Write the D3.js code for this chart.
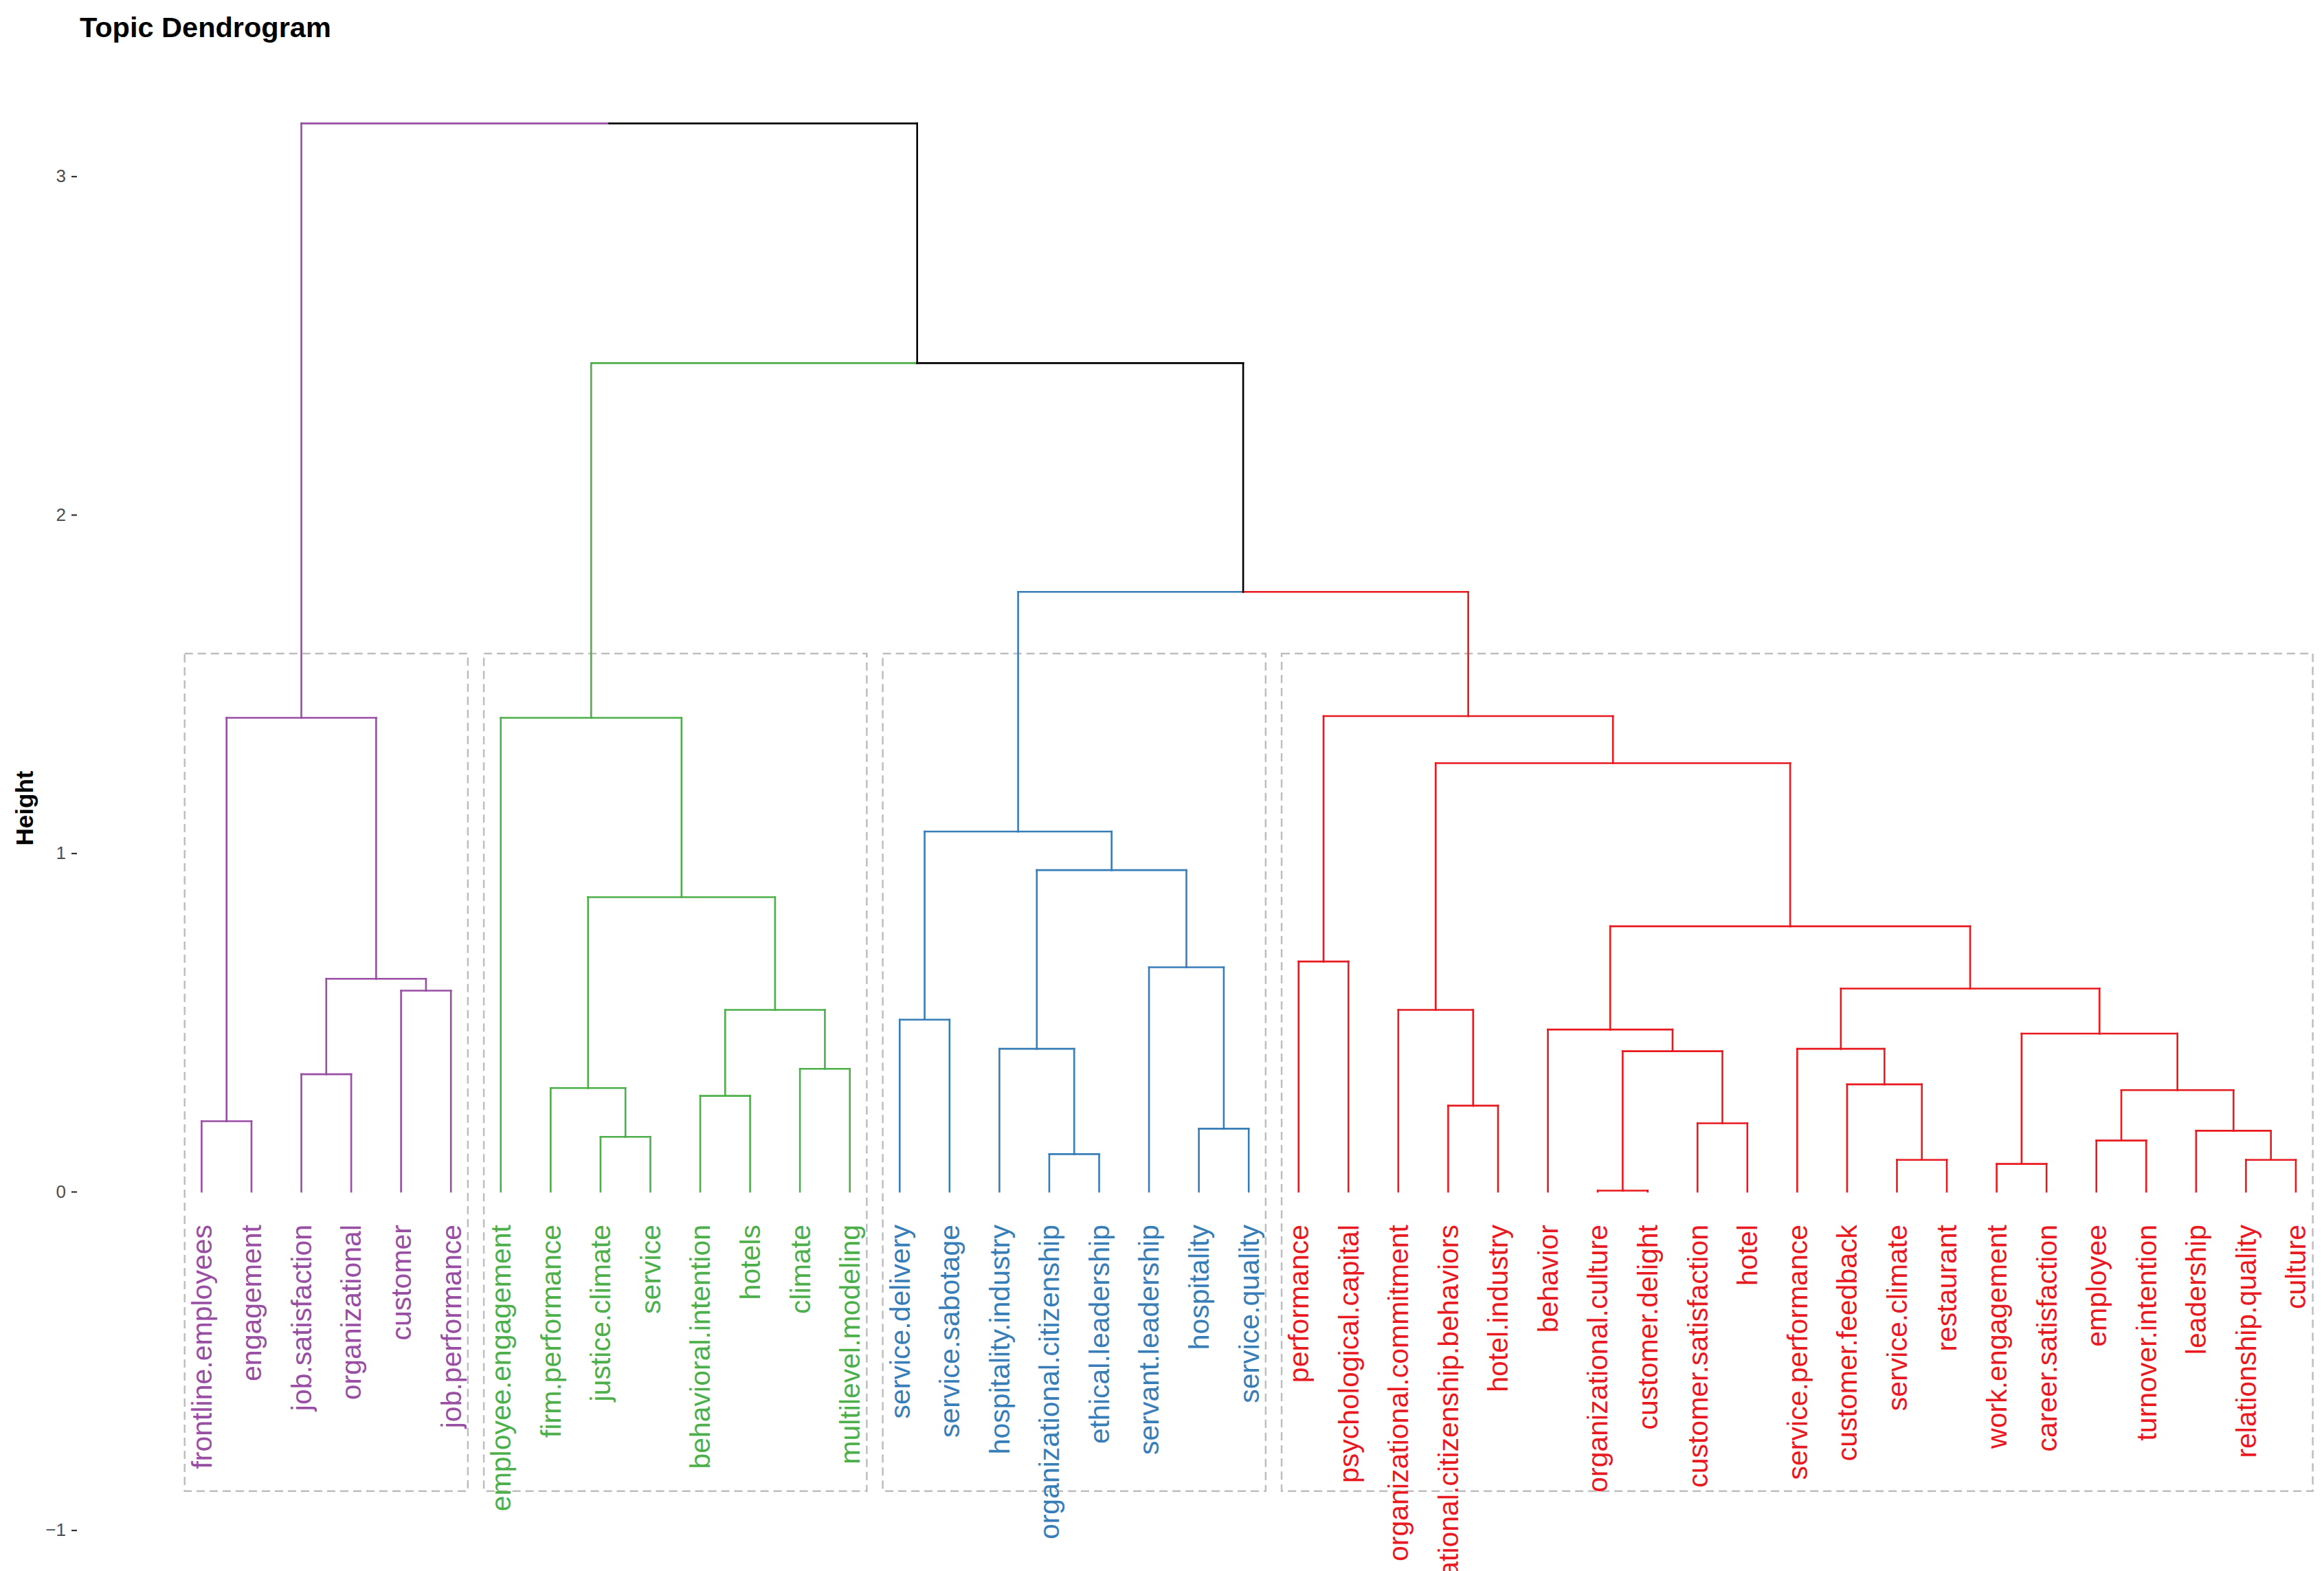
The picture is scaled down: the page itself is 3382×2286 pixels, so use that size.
<!DOCTYPE html>
<html>
<head>
<meta charset="utf-8">
<script src="https://cdn.jsdelivr.net/npm/d3@7"></script>
<style>
  body { margin: 0; background: #ffffff; }
  text { font-family: "Liberation Sans", Arial, sans-serif; }
</style>
</head>
<body>
<div id="chart"></div>
<script>
// leaves in plotting order
var labels = [
  "frontline.employees", "engagement", "job.satisfaction", "organizational", "customer", "job.performance",
  "employee.engagement", "firm.performance", "justice.climate", "service", "behavioral.intention", "hotels", "climate", "multilevel.modeling",
  "service.delivery", "service.sabotage", "hospitality.industry", "organizational.citizenship", "ethical.leadership", "servant.leadership", "hospitality", "service.quality",
  "performance", "psychological.capital", "organizational.commitment", "organizational.citizenship.behaviors", "hotel.industry", "behavior",
  "organizational.culture", "customer.delight", "customer.satisfaction", "hotel", "service.performance", "customer.feedback", "service.climate",
  "restaurant", "work.engagement", "career.satisfaction", "employee", "turnover.intention", "leadership", "relationship.quality", "culture"
];
// cluster of each leaf (1..4)
var clusterSizes = [6, 8, 8, 21];
var clusterColors = ["#984EA3", "#4DAF4A", "#377EB8", "#E8191F"];

// hclust-style merges: negative = leaf index (1-based), positive = earlier merge row
var mergeLeft  = [-29, -18, -37, -35, -42, -39, -9, -41, -21, -31, -1, -26, -11, 6, -8, -34, -3, -13, 1, -17, -33, 3, -28, -15, -25, 13, -5, 21, 17, -20, -23, 23, 15, 20, 24, 25, 11, -7, 31, 35, 38, 37];
var mergeRight = [-30, -19, -38, -36, -43, -40, -10, 5, -22, -32, -2, -27, -12, 8, 7, 4, -4, -14, 10, 2, 16, 14, 19, -16, 12, 18, -6, 22, 27, 9, -24, 28, 26, 30, 34, 32, 29, 33, 36, 39, 40, 41];
var mergeHeight = [0.003, 0.111, 0.082, 0.094, 0.094, 0.151, 0.162, 0.180, 0.186, 0.202, 0.208, 0.254, 0.283, 0.300, 0.306, 0.317, 0.347, 0.363, 0.415, 0.422, 0.422, 0.467, 0.479, 0.508, 0.537, 0.537, 0.594, 0.600, 0.629, 0.663, 0.680, 0.784, 0.870, 0.950, 1.064, 1.266, 1.400, 1.400, 1.405, 1.772, 2.448, 3.156];

var yTicks = [-1, 0, 1, 2, 3];
var rectTop = 1.59, rectBottom = -0.885;

var W = 3382, H = 2286;
var svg = d3.select("#chart").append("svg").attr("width", W).attr("height", H).style("background", "#ffffff");

var x = d3.scaleLinear().domain([1, labels.length]).range([293.4, 3341]);
var y = d3.scaleLinear().domain([-1, 3]).range([2226.5, 256.5]);

// leaf -> cluster
var leafCluster = [];
clusterSizes.forEach(function (n, ci) {
    for (var k = 0; k < n; k++) leafCluster.push(ci);
});

// node info: x, height, cluster (-1 if mixed)
function nodeInfo(id, merges) {
    if (id < 0) {
        var i = -id;
        return { x: x(i), h: 0, c: leafCluster[i - 1] };
    }
    return merges[id - 1];
}
var merges = [];
for (var m = 0; m < mergeHeight.length; m++) {
    var a = nodeInfo(mergeLeft[m], merges), b = nodeInfo(mergeRight[m], merges);
    merges.push({ x: (a.x + b.x) / 2, h: mergeHeight[m], c: a.c === b.c ? a.c : -1, kids: [a, b] });
}

// cluster rectangles
var start = 1;
var rects = clusterSizes.map(function (n) {
    var r = { from: start, to: start + n - 1 };
    start += n;
    return r;
});
svg.append("g").selectAll("rect").data(rects).enter().append("rect")
    .attr("x", function (d) { return x(d.from - 0.34); })
    .attr("y", y(rectTop))
    .attr("width", function (d) { return x(d.to + 0.34) - x(d.from - 0.34); })
    .attr("height", y(rectBottom) - y(rectTop))
    .attr("fill", "none")
    .attr("stroke", "#BEBEBE")
    .attr("stroke-width", 2.5)
    .attr("stroke-dasharray", "12,7");

// dendrogram segments
var segs = [];
merges.forEach(function (node) {
    node.kids.forEach(function (k) {
        var col = k.c >= 0 ? clusterColors[k.c] : "#000000";
        segs.push({ x1: k.x, y1: k.h, x2: k.x, y2: node.h, col: col });
        segs.push({ x1: k.x, y1: node.h, x2: node.x, y2: node.h, col: col });
    });
});
svg.append("g").selectAll("line").data(segs).enter().append("line")
    .attr("x1", function (d) { return d.x1; })
    .attr("x2", function (d) { return d.x2; })
    .attr("y1", function (d) { return y(d.y1); })
    .attr("y2", function (d) { return y(d.y2); })
    .attr("stroke", function (d) { return d.col; })
    .attr("stroke-width", 2.6)
    .attr("stroke-linecap", "square");

// leaf labels
svg.append("g").selectAll("text").data(labels).enter().append("text")
    .attr("transform", function (d, i) { return "translate(" + x(i + 1) + "," + (y(0) + 48) + ") rotate(-90)"; })
    .attr("text-anchor", "end")
    .attr("dy", "0.35em")
    .attr("font-size", "41px")
    .attr("fill", function (d, i) { return clusterColors[leafCluster[i]]; })
    .text(function (d) { return d; });

// y axis
var yAxis = svg.append("g").attr("transform", "translate(112,0)")
    .call(d3.axisLeft(y).tickValues(yTicks).tickSize(8).tickPadding(8).tickFormat(d3.format("d")));
yAxis.select(".domain").remove();
yAxis.selectAll(".tick line").attr("stroke", "#333333").attr("stroke-width", 2.2);
yAxis.selectAll(".tick text").attr("font-size", "26px").attr("fill", "#4D4D4D")
    .style("font-family", "'Liberation Sans', Arial, sans-serif");

svg.append("text")
    .attr("transform", "translate(48,1176) rotate(-90)")
    .attr("text-anchor", "middle")
    .attr("font-size", "35px")
    .attr("font-weight", "bold")
    .text("Height");

svg.append("text")
    .attr("x", 116).attr("y", 54)
    .attr("font-size", "41.5px")
    .attr("font-weight", "bold")
    .text("Topic Dendrogram");
</script>
</body>
</html>
